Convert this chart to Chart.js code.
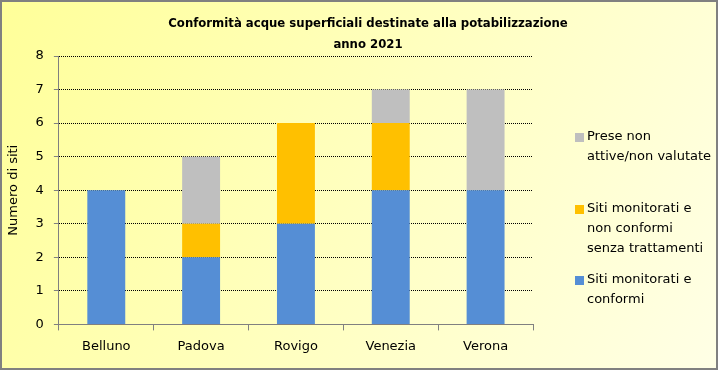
<!DOCTYPE html>
<html>
<head>
<meta charset="utf-8">
<script src="https://cdn.jsdelivr.net/npm/chart.js@4"></script>
<style>
  html, body { margin: 0; padding: 0; background: #fff; }
  #wrap { width: 718px; height: 370px; position: relative; }
</style>
</head>
<body>
<div id="wrap"><canvas id="chart" width="718" height="370"></canvas></div>
<script>
// Dati
const province = ["Belluno", "Padova", "Rovigo", "Venezia", "Verona"];
const conformi = [4, 2, 3, 4, 4];
const nonConformi = [0, 1, 3, 2, 0];
const nonAttive = [0, 2, 0, 1, 3];

const labelConformi = ["Siti monitorati e", "conformi"];
const labelNonConformi = ["Siti monitorati e", "non conformi", "senza trattamenti"];
const labelNonAttive = ["Prese non", "attive/non valutate"];

const titolo = ["Conformità acque superficiali destinate alla potabilizzazione", "anno 2021"];
const fontFamily = "'DejaVu Sans', sans-serif";

// sfondo sfumato + bordo
const sfondo = {
    id: 'sfondo',
    beforeDraw(chart) {
        const ctx = chart.ctx;
        const g = ctx.createLinearGradient(0, 0, chart.width, chart.height);
        g.addColorStop(0, '#ffff99');
        g.addColorStop(1, '#ffffe6');
        ctx.save();
        ctx.fillStyle = g;
        ctx.fillRect(0, 0, chart.width, chart.height);
        ctx.strokeStyle = '#808080';
        ctx.lineWidth = 2;
        ctx.strokeRect(1, 1, chart.width - 2, chart.height - 2);
        ctx.restore();
    }
};

// titolo centrato su tutta la figura + legenda a destra (ordine inverso, più righe)
const testi = {
    id: 'testi',
    afterDraw(chart) {
        const ctx = chart.ctx;
        ctx.save();
        ctx.textBaseline = 'middle';
        ctx.textAlign = 'center';
        ctx.fillStyle = '#000';
        ctx.font = "bold 13px 'DejaVu Sans Condensed', 'Liberation Sans', sans-serif";
        titolo.forEach((t, i) => ctx.fillText(t, 368, 24 + i * 21));

        const items = [
            { ds: 2, y: 137 },
            { ds: 1, y: 209 },
            { ds: 0, y: 280 }
        ];
        ctx.textAlign = 'left';
        ctx.font = "13px " + fontFamily;
        items.forEach(it => {
            const ds = chart.data.datasets[it.ds];
            ctx.fillStyle = ds.backgroundColor;
            ctx.fillRect(575, it.y - 4, 9, 9);
            ctx.fillStyle = '#000';
            ds.legendText.forEach((t, i) => {
                ctx.fillText(t, 587, it.y + i * 20);
            });
        });
        ctx.restore();
    }
};

const ctx = document.getElementById('chart').getContext('2d');
const chart = new Chart(ctx, {
    type: 'bar',
    data: {
        labels: province,
        datasets: [
            { label: labelConformi.join(' '), legendText: labelConformi, data: conformi, backgroundColor: '#558ed5' },
            { label: labelNonConformi.join(' '), legendText: labelNonConformi, data: nonConformi, backgroundColor: '#ffc000' },
            { label: labelNonAttive.join(' '), legendText: labelNonAttive, data: nonAttive, backgroundColor: '#bfbfbf' }
        ]
    },
    plugins: [sfondo, testi],
    options: {
        responsive: false,
        animation: false,
        layout: { padding: { left: 2, right: 185, top: 56, bottom: 8 } },
        datasets: {
            bar: { categoryPercentage: 1, barPercentage: 0.4 }
        },
        plugins: {
            legend: { display: false },
            tooltip: { enabled: false },
            title: { display: false }
        },
        scales: {
            x: {
                stacked: true,
                grid: { offset: true, drawOnChartArea: false, color: '#808080', tickLength: 6 },
                border: { color: '#808080' },
                ticks: { color: '#000', font: { family: fontFamily, size: 13 }, padding: 8 }
            },
            y: {
                stacked: true,
                min: 0,
                max: 8,
                ticks: { stepSize: 1, color: '#000', font: { family: fontFamily, size: 13 }, padding: 10 },
                grid: { color: '#000', tickColor: '#808080', tickLength: 5, tickBorderDash: [] },
                border: { color: '#808080', dash: [1, 1] },
                title: { display: true, text: 'Numero di siti', color: '#000', font: { family: fontFamily, size: 13 }, padding: 4 }
            }
        }
    }
});
</script>
</body>
</html>
